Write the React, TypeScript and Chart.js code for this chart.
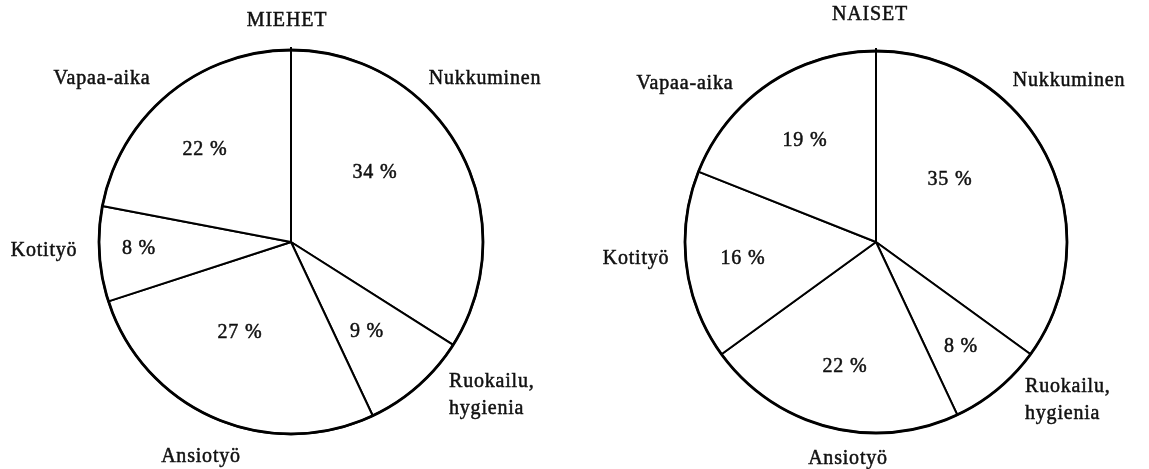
import React, { useEffect, useRef } from "react";
import { Chart, registerables } from "chart.js";

Chart.register(...registerables);

// ---- data ----
const categories: string[][] = [
  ["Nukkuminen"],
  ["Ruokailu,", "hygienia"],
  ["Ansiotyö"],
  ["Kotityö"],
  ["Vapaa-aika"],
];
const menValues = [34, 9, 27, 8, 22];
const womenValues = [35, 8, 22, 16, 19];
const menTitle = "MIEHET";
const womenTitle = "NAISET";

// ---- layout (offsets relative to pie centre, px) ----
const menLayout = {
  title: [-4, -221],
  names: [
    { dx: 194, dy: -163, align: "center" },
    { dx: 158, dy: 140, align: "left" },
    { dx: -90, dy: 215, align: "center" },
    { dx: -247, dy: 9, align: "center" },
    { dx: -189, dy: -163, align: "center" },
  ],
  pcts: [
    [84, -69],
    [76, 90],
    [-51, 91],
    [-152, 7],
    [-86, -92],
  ],
};
const womenLayout = {
  title: [-6, -227],
  names: [
    { dx: 193, dy: -161, align: "center" },
    { dx: 149, dy: 145, align: "left" },
    { dx: -28, dy: 217, align: "center" },
    { dx: -240, dy: 17, align: "center" },
    { dx: -191, dy: -158, align: "center" },
  ],
  pcts: [
    [74, -62],
    [85, 105],
    [-31, 125],
    [-133, 17],
    [-71, -101],
  ],
};

const FONT = '20px "Liberation Serif", "Times New Roman", serif';

function drawText(ctx: CanvasRenderingContext2D, text: string, x: number, y: number) {
  ctx.fillText(text, x, y);
  ctx.strokeText(text, x, y);
}

const pieLabelsPlugin = {
  id: "pieLabels",
  afterDraw(chart: any, _args: any, opts: any) {
    const meta = chart.getDatasetMeta(0);
    const first: any = meta.data[0];
    if (!first) return;
    const cx = first.x;
    const cy = first.y;
    const r = first.outerRadius;
    const ctx: CanvasRenderingContext2D = chart.ctx;
    ctx.save();
    // outer circle, slightly heavier
    ctx.beginPath();
    ctx.arc(cx, cy, r, 0, Math.PI * 2);
    ctx.lineWidth = 2.8;
    ctx.strokeStyle = "#000";
    ctx.stroke();
    // small tick at the top where the first radius meets the rim
    ctx.beginPath();
    ctx.moveTo(cx, cy - r - 3);
    ctx.lineTo(cx, cy - r + 2);
    ctx.lineWidth = 2;
    ctx.stroke();

    ctx.fillStyle = "#111";
    ctx.strokeStyle = "#111";
    ctx.lineWidth = 0.5;
    ctx.font = FONT;
    (ctx as any).letterSpacing = "0.8px";
    ctx.textBaseline = "middle";
    const layout = opts.layout;
    ctx.textAlign = "center";
    drawText(ctx, opts.title, cx + layout.title[0], cy + layout.title[1]);
    const values: number[] = chart.data.datasets[0].data;
    const labels: string[][] = chart.data.labels;
    labels.forEach((lines, i) => {
      const pos = layout.names[i];
      ctx.textAlign = pos.align;
      lines.forEach((line, j) => {
        drawText(ctx, line, cx + pos.dx, cy + pos.dy + j * 27);
      });
      const p = layout.pcts[i];
      ctx.textAlign = "center";
      drawText(ctx, values[i] + " %", cx + p[0], cy + p[1]);
    });
    ctx.restore();
  },
};

function PieChart(props: {
  values: number[];
  title: string;
  layout: any;
  width: number;
  left: number;
  padding: any;
  radius: number;
}) {
  const ref = useRef<HTMLCanvasElement | null>(null);
  useEffect(() => {
    if (!ref.current) return;
    const chart = new Chart(ref.current, {
      type: "pie",
      data: {
        labels: categories as any,
        datasets: [
          {
            data: props.values,
            backgroundColor: "#ffffff",
            borderColor: "#000000",
            borderWidth: 2,
          },
        ],
      },
      options: {
        responsive: false,
        animation: false,
        events: [],
        radius: props.radius,
        layout: { padding: props.padding },
        plugins: {
          legend: { display: false },
          tooltip: { enabled: false },
          title: { display: false },
          pieLabels: { title: props.title, layout: props.layout },
        } as any,
      } as any,
      plugins: [pieLabelsPlugin],
    });
    return () => chart.destroy();
  }, []);
  return (
    <canvas
      ref={ref}
      width={props.width}
      height={469}
      style={{
        position: "absolute",
        left: props.left,
        top: 0,
        width: props.width,
        height: 469,
        display: "block",
      }}
    />
  );
}

export default function App() {
  return (
    <div
      style={{
        position: "absolute",
        left: 0,
        top: 0,
        width: 1149,
        height: 469,
        background: "#fff",
        overflow: "hidden",
      }}
    >
      <PieChart
        values={menValues}
        title={menTitle}
        layout={menLayout}
        width={580}
        left={0}
        padding={{ top: 15, left: 2, right: 0, bottom: 0 }}
        radius={192}
      />
      <PieChart
        values={womenValues}
        title={womenTitle}
        layout={womenLayout}
        width={569}
        left={580}
        padding={{ top: 15, left: 23, right: 0, bottom: 0 }}
        radius={191}
      />
    </div>
  );
}
